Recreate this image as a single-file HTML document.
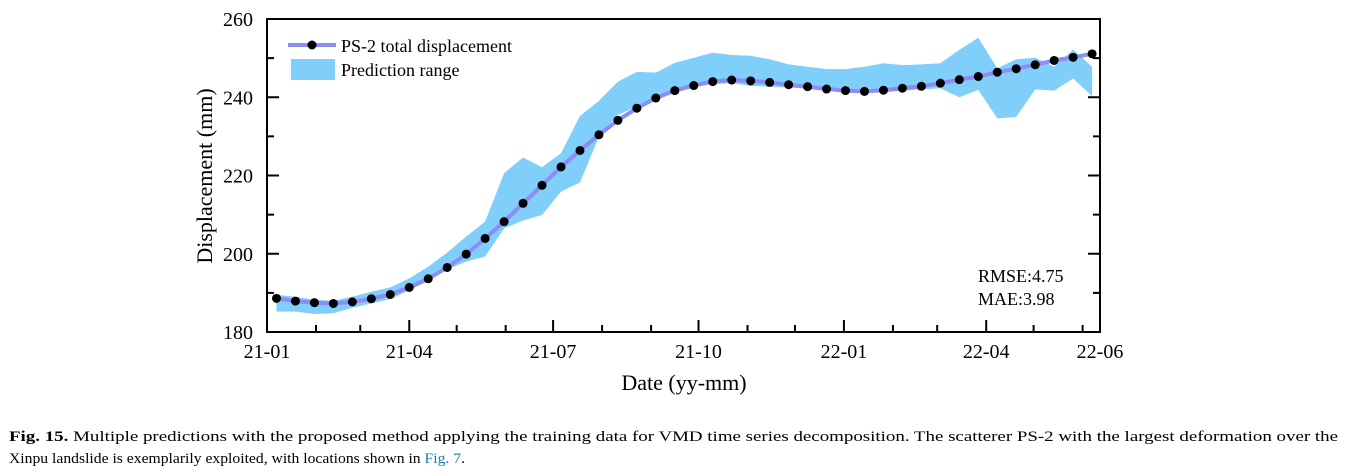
<!DOCTYPE html>
<html><head><meta charset="utf-8"><style>
html,body{margin:0;padding:0;background:#fff;}
svg{display:block;font-family:"Liberation Serif",serif;}
</style></head><body>
<svg id="chart" width="1361" height="476" viewBox="0 0 1361 476" xmlns="http://www.w3.org/2000/svg">
<g id="band"></g>
<g id="line"></g>
<rect x="267" y="19" width="833" height="313" fill="none" stroke="#000" stroke-width="2"/>
<g id="axes"></g>
<text x="684" y="390" font-size="22" text-anchor="middle">Date (yy-mm)</text>
<text transform="translate(212,176) rotate(-90)" font-size="22" text-anchor="middle">Displacement (mm)</text>
<g>
<line x1="288" y1="45" x2="336" y2="45" stroke="#8c8cf5" stroke-width="4"/>
<circle cx="312" cy="45" r="4.5" fill="#000"/>
<text x="341" y="52" font-size="18">PS-2 total displacement</text>
<rect x="291" y="59" width="44" height="21" fill="#80cefa"/>
<text x="341" y="76" font-size="18">Prediction range</text>
</g>
<text x="978" y="282" font-size="18">RMSE:4.75</text>
<text x="978" y="305" font-size="18">MAE:3.98</text>
<g font-size="14.5">
<text x="9" y="441" textLength="1329" lengthAdjust="spacingAndGlyphs"><tspan font-weight="bold">Fig. 15.</tspan> Multiple predictions with the proposed method applying the training data for VMD time series decomposition. The scatterer PS-2 with the largest deformation over the</text>
<text x="9" y="463" textLength="456" lengthAdjust="spacingAndGlyphs">Xinpu landslide is exemplarily exploited, with locations shown in <tspan fill="#1a7ab5">Fig. 7</tspan>.</text>
</g>
</svg>
<script>
const days=[6,18,30,42,54,66,78,90,102,114,126,138,150,162,174,186,198,210,222,234,246,258,270,282,294,306,318,330,342,354,366,378,390,402,414,426,438,450,462,474,486,498,510,522];
const displacement=[188.6,187.9,187.5,187.3,187.7,188.5,189.6,191.4,193.6,196.5,199.9,203.9,208.2,212.9,217.5,222.2,226.4,230.4,234.1,237.2,239.8,241.7,243.0,244.0,244.4,244.2,243.8,243.2,242.7,242.1,241.7,241.5,241.8,242.3,242.8,243.6,244.5,245.3,246.4,247.3,248.3,249.4,250.2,251.1];
const upper=[189.5,189.0,188.2,188.0,189.0,190.3,191.4,193.7,196.7,200.3,204.4,208.2,220.6,224.6,222.1,225.7,235.2,239.1,244.0,246.5,246.3,248.8,250.1,251.4,250.8,250.6,249.7,248.4,247.8,247.2,247.2,247.8,248.7,248.2,248.4,248.7,252.1,255.2,247.4,249.7,250.1,247.8,252.2,247.8];
const lower=[185.2,185.2,184.6,184.8,186.2,187.3,188.4,190.7,193.1,196.0,198.0,199.3,206.5,208.5,209.9,215.9,218.2,229.9,235.5,237.6,239.7,241.4,242.7,243.4,243.6,242.9,242.7,242.5,242.2,241.6,241.3,241.2,241.3,241.7,242.0,242.3,240.0,241.9,234.6,235.0,242.0,241.7,244.8,240.3];
const monthStartDays=[31,59,90,120,151,181,212,243,273,304,334,365,396,424,455,485,516];
const xTickLabels=["21-01","21-04","21-07","21-10","22-01","22-04","22-06"];
const xTickLabelDays=[0,90,181,273,365,455,527];
const yTicks=[180,200,220,240,260];
const X0=267,X1=1100,Y0=332,Y1=19,DMAX=527;
const xD=d=>X0+(d/DMAX)*(X1-X0);
const y=v=>Y0-(v-180)/80*(Y0-Y1);
const NS="http://www.w3.org/2000/svg";
function mk(tag,attrs,parent){const e=document.createElementNS(NS,tag);for(const k in attrs)e.setAttribute(k,attrs[k]);parent.appendChild(e);return e;}
const band=document.getElementById('band');
let pts=days.map((d,i)=>xD(d)+","+y(upper[i]));
for(let i=days.length-1;i>=0;i--)pts.push(xD(days[i])+","+y(lower[i]));
const poly=mk('polygon',{points:pts.join(' '),fill:'#80cefa'},band);


const lg=document.getElementById('line');
const pl=mk('polyline',{points:days.map((d,i)=>xD(d)+","+y(displacement[i])).join(' '),fill:'none',stroke:'#8c8cf5','stroke-width':4,'stroke-linejoin':'round'},lg);


days.forEach((d,i)=>{const c=mk('circle',{cx:xD(d),cy:y(displacement[i]),r:4.5,fill:'#000'},lg);

});
const ax=document.getElementById('axes');
monthStartDays.forEach(d=>{const major=xTickLabelDays.includes(d);mk('line',{x1:xD(d),x2:xD(d),y1:Y0,y2:Y0-(major?12:7),stroke:'#000','stroke-width':2},ax);});
xTickLabels.forEach((t,i)=>{const e=mk('text',{x:xD(xTickLabelDays[i]),y:358,'font-size':20,'text-anchor':'middle'},ax);e.textContent=t;

});
yTicks.forEach(v=>{const e=mk('text',{x:253,y:y(v)+7,'font-size':20,'text-anchor':'end'},ax);e.textContent=v;

});
for(let v=190;v<260;v+=10){const major=v%20===0;const L=major?12:7;
mk('line',{x1:X0,x2:X0+L,y1:y(v),y2:y(v),stroke:'#000','stroke-width':2},ax);
mk('line',{x1:X1,x2:X1-L,y1:y(v),y2:y(v),stroke:'#000','stroke-width':2},ax);}
</script>
</body></html>
